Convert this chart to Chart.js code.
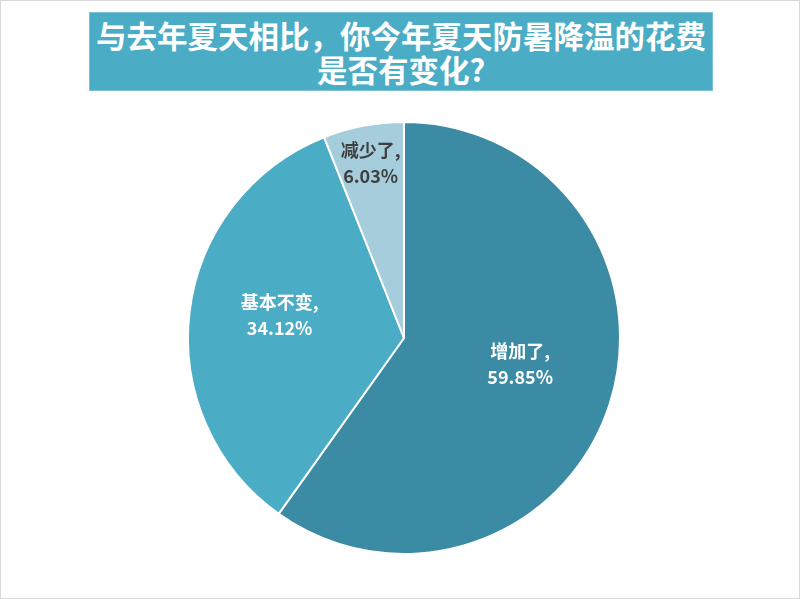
<!DOCTYPE html>
<html>
<head>
<meta charset="utf-8">
<script src="https://cdn.jsdelivr.net/npm/chart.js@4"></script>
<style>
  html, body { margin: 0; padding: 0; background: #fff; }
  #wrap { position: relative; width: 800px; height: 599px; box-sizing: border-box; border: 1px solid #d9d9d9; }
  #title {
    position: absolute; left: 88px; top: 11px; width: 624px; height: 79px;
    box-sizing: border-box; background: #4BACC6; border: 1px solid #7cc3d6;
    color: #fff; font-family: "Noto Sans CJK SC", sans-serif; font-weight: bold;
    font-size: 30.5px; line-height: 34px; text-align: center; padding-top: 5px;
  }
  canvas { position: absolute; left: 0; top: 0; }
</style>
</head>
<body>
<div id="wrap">
  <canvas id="pie" width="800" height="599"></canvas>
  <div id="title">与去年夏天相比，你今年夏天防暑降温的花费<br>是否有变化?</div>
</div>
<script>
const categories = ['增加了', '基本不变', '减少了'];
const shares = [59.85, 34.12, 6.03];
const colors = ['#3A8BA3', '#4BACC6', '#A5CDDC'];
const labelColors = ['#ffffff', '#ffffff', '#404040'];

// label placement: fraction of radius along the slice middle, plus a small nudge
const labelDist = [0.55, 0.58, 0.82];
const labelNudge = [[3, -10], [0, -8], [0, -1]];

const ctx = document.getElementById('pie').getContext('2d');

new Chart(ctx, {
  type: 'pie',
  data: {
    labels: categories,
    datasets: [
      {
        data: shares,
        backgroundColor: colors,
        borderColor: '#ffffff',
        borderWidth: 2
      }
    ]
  },
  options: {
    responsive: false,
    animation: false,
    layout: {
      padding: { left: 186, right: 180, top: 120, bottom: 45 }
    },
    plugins: {
      legend: { display: false },
      tooltip: { enabled: false }
    }
  },
  plugins: [
    {
      id: 'sliceLabels',
      afterDatasetsDraw(chart) {
        const c = chart.ctx;
        const arcs = chart.getDatasetMeta(0).data;
        c.save();
        c.font = 'bold 18px "Noto Sans CJK SC", sans-serif';
        c.textAlign = 'center';
        c.textBaseline = 'middle';
        arcs.forEach((arc, i) => {
          const { x, y, startAngle, endAngle, outerRadius } = arc.getProps(['x', 'y', 'startAngle', 'endAngle', 'outerRadius'], true);
          const mid = (startAngle + endAngle) / 2;
          const r = outerRadius * labelDist[i];
          const lx = x + Math.cos(mid) * r + labelNudge[i][0];
          const ly = y + Math.sin(mid) * r + labelNudge[i][1];
          c.fillStyle = labelColors[i];
          c.fillText(categories[i] + ',', lx, ly - 13);
          c.fillText(shares[i].toFixed(2) + '%', lx, ly + 13);
        });
        c.restore();
      }
    }
  ]
});
</script>
</body>
</html>
